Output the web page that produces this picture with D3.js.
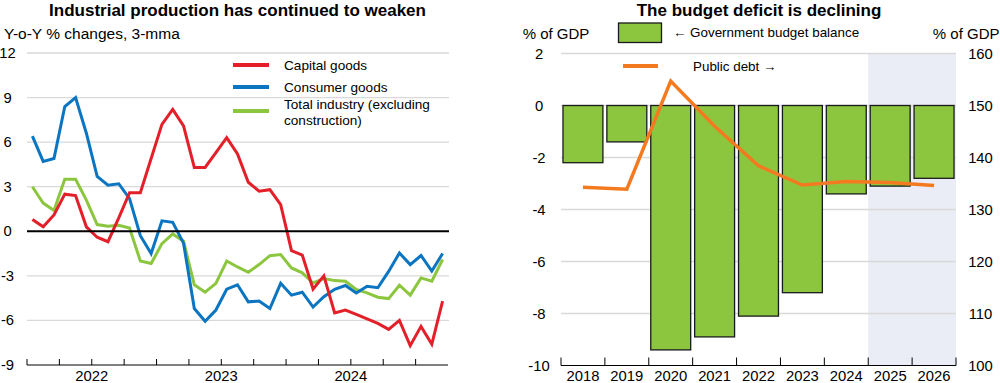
<!DOCTYPE html>
<html><head><meta charset="utf-8">
<script src="https://cdn.jsdelivr.net/npm/d3@7"></script>
<style>
body{margin:0;background:#fff;}
svg text{font-family:Arial,"Liberation Sans",sans-serif;fill:#000;}
</style></head>
<body><svg id="c" width="1000" height="383"></svg>
<script>
// ---- Left panel data ----
const months = ["2022-01","2022-02","2022-03","2022-04","2022-05","2022-06","2022-07","2022-08","2022-09","2022-10","2022-11","2022-12",
"2023-01","2023-02","2023-03","2023-04","2023-05","2023-06","2023-07","2023-08","2023-09","2023-10","2023-11","2023-12",
"2024-01","2024-02","2024-03","2024-04","2024-05","2024-06","2024-07","2024-08","2024-09","2024-10","2024-11","2024-12",
"2025-01","2025-02","2025-03"];
const capitalGoods = [0.8,0.3,1.1,2.5,2.4,0.3,-0.4,-0.7,0.9,2.6,2.6,4.9,7.2,8.2,7.1,4.3,4.3,5.3,6.3,5.2,3.3,2.7,2.8,1.8,-1.3,-1.6,-3.9,-3.0,-5.5,-5.3,-5.6,-5.9,-6.2,-6.6,-6.0,-7.7,-6.4,-7.6,-4.7];
const consumerGoods = [6.4,4.7,4.9,8.4,9.0,6.6,3.7,3.1,3.2,2.2,-0.3,-1.5,0.7,0.6,-0.8,-5.2,-6.05,-5.3,-3.9,-3.6,-4.75,-4.7,-5.2,-3.5,-4.3,-4.1,-5.1,-4.4,-3.9,-3.65,-4.15,-3.7,-3.8,-2.7,-1.46,-2.24,-1.63,-2.68,-1.5];
const totalIndustry = [3.0,1.9,1.4,3.5,3.5,2.1,0.45,0.34,0.4,0.22,-2.0,-2.17,-0.83,-0.18,-0.67,-3.6,-4.1,-3.5,-2.0,-2.4,-2.76,-2.24,-1.64,-1.57,-2.47,-2.8,-3.48,-3.18,-3.32,-3.36,-3.92,-4.15,-4.44,-4.53,-3.63,-4.3,-3.14,-3.36,-1.9];
const leftTicks = [-9,-6,-3,0,3,6,9,12];
const yearLabels = ["2022","2023","2024"];

// ---- Right panel data ----
const years = ["2018","2019","2020","2021","2022","2023","2024","2025","2026"];
const budgetBalance = [-2.2,-1.4,-9.4,-8.9,-8.1,-7.2,-3.4,-3.1,-2.8];
const publicDebt = [134.3,133.9,154.7,146.0,138.4,134.7,135.4,135.2,134.6];
const projectionYears = ["2025","2026"];
const rightTicksL = [-10,-8,-6,-4,-2,0,2];
const rightTicksR = [100,110,120,130,140,150,160];

const RED="#e3202a", BLUE="#0b75c2", GREEN="#8cc63f", ORANGE="#f47a20", GRID="#d9d9d9";
const TICKFS = "14.8px", LEGFS = "13.6px";
const svg = d3.select("#c");

// ================= LEFT =================
const L = {x0:27, x1:448, y0:53, y1:365};
const xL = d3.scaleBand().domain(months).range([L.x0,L.x1]).padding(0);
const yL = d3.scaleLinear().domain([-9,12]).range([L.y1,L.y0]);
const cx = m => xL(m)+xL.bandwidth()/2;

svg.append("text").attr("x",237.5).attr("y",15.5).attr("text-anchor","middle")
  .style("font-size","17px").style("font-weight","bold").text("Industrial production has continued to weaken");
svg.append("text").attr("x",4).attr("y",38.5).style("font-size","15.5px").text("Y-o-Y % changes, 3-mma");

const gL = svg.append("g");
gL.selectAll(".grid").data(leftTicks.filter(t=>t!==0 && t!==-9)).join("line")
  .attr("x1",L.x0).attr("x2",L.x1+1).attr("y1",d=>yL(d)).attr("y2",d=>yL(d))
  .attr("stroke",GRID).attr("stroke-width",1.3);
gL.selectAll(".yl").data(leftTicks).join("text")
  .attr("x",7.5).attr("y",d=>yL(d)+5).attr("text-anchor","middle").style("font-size",TICKFS).text(d=>d);

// bottom axis
gL.append("line").attr("x1",L.x0).attr("x2",L.x1).attr("y1",L.y1).attr("y2",L.y1).attr("stroke","#000").attr("stroke-width",1);
const qTicks = months.filter((m,i)=>i%3===0);
gL.selectAll(".tk").data(qTicks).join("line")
  .attr("x1",d=>xL(d)).attr("x2",d=>xL(d)).attr("y1",L.y1).attr("y2",L.y1-6).attr("stroke","#000").attr("stroke-width",1);
gL.selectAll(".xl").data(yearLabels).join("text")
  .attr("x",d=>xL(d+"-07")).attr("y",380.5).attr("text-anchor","middle").style("font-size",TICKFS).text(d=>d);

const line = d3.line().x((d,i)=>cx(months[i])).y(d=>yL(d));
[[totalIndustry,GREEN],[consumerGoods,BLUE],[capitalGoods,RED]].forEach(([s,c])=>{
  gL.append("path").datum(s).attr("d",line).attr("fill","none").attr("stroke",c).attr("stroke-width",3).attr("stroke-linejoin","miter");
});
// zero line
gL.append("line").attr("x1",L.x0).attr("x2",L.x1+1).attr("y1",yL(0)).attr("y2",yL(0)).attr("stroke","#000").attr("stroke-width",2);

// legend
const legL = [["Capital goods",RED,65],["Consumer goods",BLUE,87],["",GREEN,111]];
legL.forEach(([t,c,y])=>{
  gL.append("line").attr("x1",233).attr("x2",269).attr("y1",y).attr("y2",y).attr("stroke",c).attr("stroke-width",4);
  if(t) gL.append("text").attr("x",284).attr("y",y+4.7).style("font-size",LEGFS).text(t);
});
gL.append("text").attr("x",284).attr("y",109).style("font-size",LEGFS).text("Total industry (excluding");
gL.append("text").attr("x",284).attr("y",125).style("font-size",LEGFS).text("construction)");

// ================= RIGHT =================
const R = {x0:561, x1:956, y0:53.5, y1:365.5};
const xR = d3.scaleBand().domain(years).range([R.x0,R.x1]).paddingInner(0.09).paddingOuter(0.045);
const yR = d3.scaleLinear().domain([-10,2]).range([R.y1,R.y0]);
const yR2 = d3.scaleLinear().domain([100,160]).range([R.y1,R.y0]);
const step = xR.step();
const bandStart = y => xR(y) - xR.paddingInner()*step/2;

svg.append("text").attr("x",759).attr("y",15.5).attr("text-anchor","middle")
  .style("font-size","17px").style("font-weight","bold").text("The budget deficit is declining");
svg.append("text").attr("x",556).attr("y",38.5).attr("text-anchor","middle").style("font-size","15px").text("% of GDP");
svg.append("text").attr("x",999.5).attr("y",38.5).attr("text-anchor","end").style("font-size","15px").text("% of GDP");

const gR = svg.append("g");
// projection shading
gR.append("rect").attr("x",bandStart(projectionYears[0])).attr("y",R.y0)
  .attr("width",R.x1-bandStart(projectionYears[0])).attr("height",R.y1-R.y0).attr("fill","#eaedf5");
gR.selectAll(".grid").data(rightTicksL.filter(t=>t!==-10)).join("line")
  .attr("x1",R.x0).attr("x2",R.x1).attr("y1",d=>yR(d)).attr("y2",d=>yR(d)).attr("stroke",GRID).attr("stroke-width",1.3);
gR.selectAll(".yl").data(rightTicksL).join("text")
  .attr("x",539).attr("y",d=>yR(d)+5).attr("text-anchor","middle").style("font-size",TICKFS).text(d=>d);
gR.selectAll(".yr").data(rightTicksR).join("text")
  .attr("x",980.5).attr("y",d=>yR2(d)+5).attr("text-anchor","middle").style("font-size",TICKFS).text(d=>d);

// bars
gR.selectAll(".bar").data(budgetBalance).join("rect")
  .attr("x",(d,i)=>xR(years[i])).attr("width",xR.bandwidth())
  .attr("y",d=>yR(Math.max(0,d))).attr("height",d=>Math.abs(yR(d)-yR(0)))
  .attr("fill",GREEN).attr("stroke","#1a1a1a").attr("stroke-width",1.3);

// axis
gR.append("line").attr("x1",R.x0).attr("x2",R.x1).attr("y1",R.y1).attr("y2",R.y1).attr("stroke","#000").attr("stroke-width",1);
gR.selectAll(".tk").data(years.concat(["end"])).join("line")
  .attr("x1",(d,i)=>R.x0+i*(R.x1-R.x0)/years.length).attr("x2",(d,i)=>R.x0+i*(R.x1-R.x0)/years.length)
  .attr("y1",R.y1).attr("y2",R.y1-8).attr("stroke","#000").attr("stroke-width",1);
gR.selectAll(".xl").data(years).join("text")
  .attr("x",d=>xR(d)+xR.bandwidth()/2).attr("y",380.5).attr("text-anchor","middle").style("font-size",TICKFS).text(d=>d);

// debt line
const dl = d3.line().x((d,i)=>xR(years[i])+xR.bandwidth()/2).y(d=>yR2(d));
gR.append("path").datum(publicDebt).attr("d",dl).attr("fill","none").attr("stroke",ORANGE).attr("stroke-width",3.5);

// legend
gR.append("rect").attr("x",618.5).attr("y",23).attr("width",43).attr("height",19.5).attr("fill",GREEN).attr("stroke","#1a1a1a").attr("stroke-width",1.3);
gR.append("text").attr("x",673).attr("y",37).style("font-size","13.4px").text("← Government budget balance");
gR.append("line").attr("x1",623).attr("x2",658).attr("y1",66).attr("y2",66).attr("stroke",ORANGE).attr("stroke-width",4);
gR.append("text").attr("x",693).attr("y",70.5).style("font-size","13.4px").text("Public debt →");
</script></body></html>
